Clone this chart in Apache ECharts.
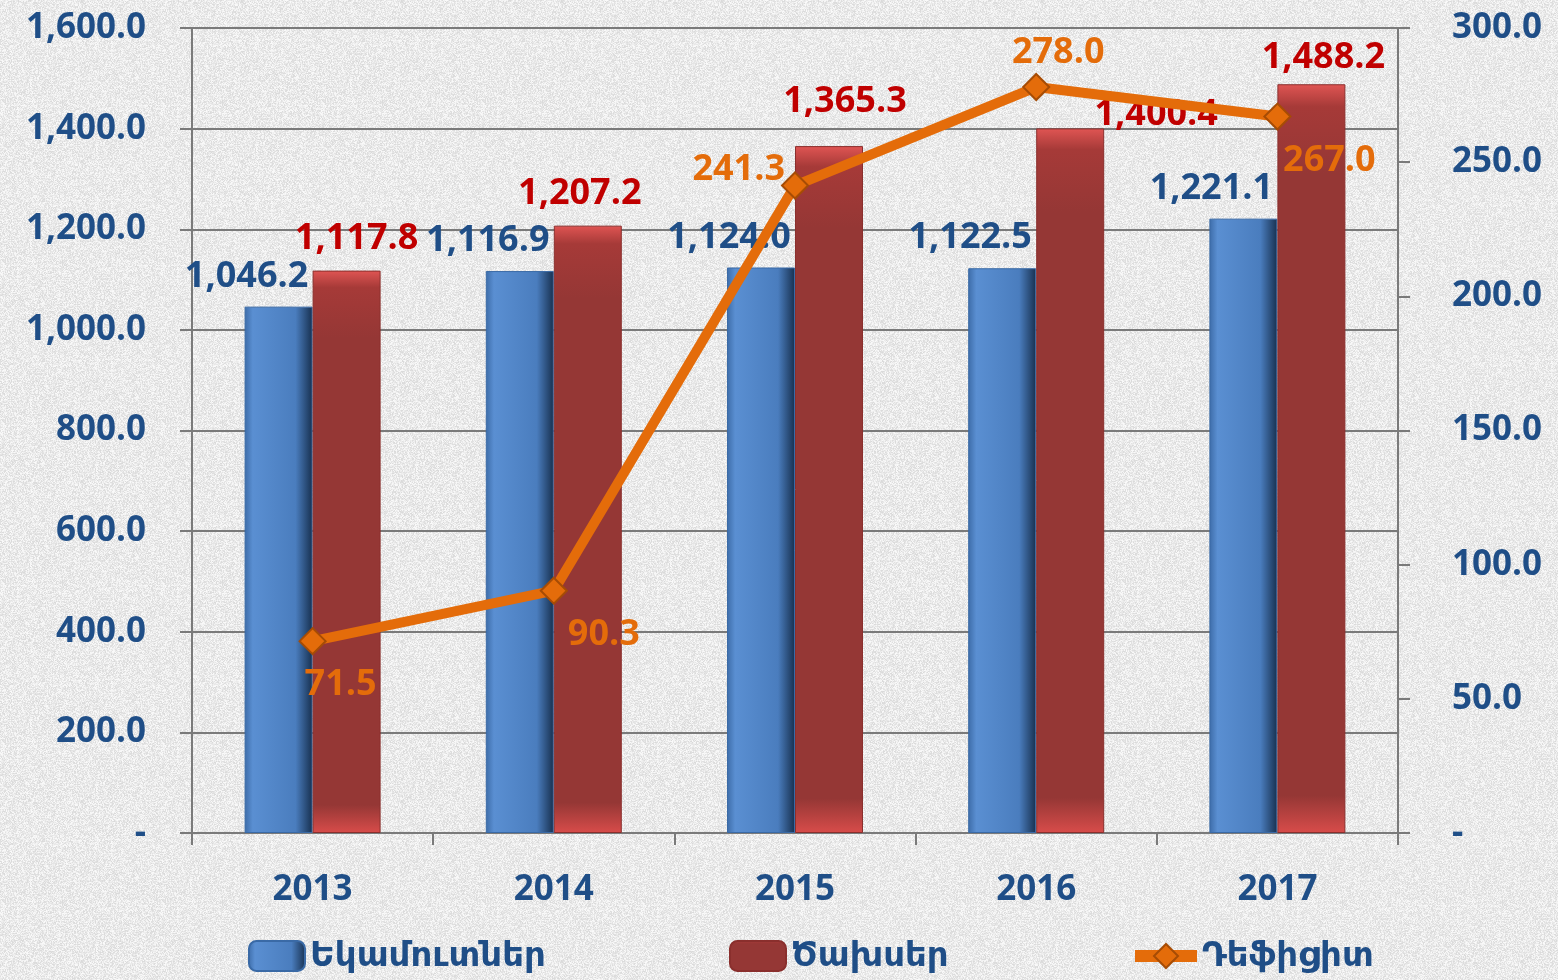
<!DOCTYPE html>
<html>
<head>
<meta charset="utf-8">
<script src="https://cdn.jsdelivr.net/npm/echarts@6/dist/echarts.min.js"></script>
<style>
  html, body { margin: 0; padding: 0; background: #e7e7e7; }
  #chart { width: 1558px; height: 980px; }
</style>
</head>
<body>
<div id="chart"></div>
<script>
// data
var years = ['2013', '2014', '2015', '2016', '2017'];
var revenues = [1046.2, 1116.9, 1124.0, 1122.5, 1221.1];
var expenses = [1117.8, 1207.2, 1365.3, 1400.4, 1488.2];
var deficit = [71.5, 90.3, 241.3, 278.0, 267.0];
var seriesNames = ['Եկամուտներ', 'Ծախսեր', 'Դեֆիցիտ'];

// label nudges, so the labels sit where the original put them
var expensesLabelShift = [[10, 0], [-8, 0], [16, -12], [86, 18], [12, 6]];
var deficitLabelPos = ['bottom', 'bottom', 'left', 'top', 'bottom'];
var deficitLabelShift = [[28, 0], [50, 0], [16, -16], [22, 10], [52, 0]];

var BLUE_TEXT = '#1f4e87';
var FONT = '"Open Sans", "DejaVu Sans", sans-serif';

// grainy paper background, like the original
(function () {
    var c = document.createElement('canvas');
    c.width = 160; c.height = 160;
    var ctx = c.getContext('2d');
    var img = ctx.createImageData(160, 160);
    var s = 12345;
    for (var i = 0; i < img.data.length; i += 4) {
        s = (s * 1103515245 + 12345) % 2147483648;
        var g = 218 + (s % 34);
        img.data[i] = g; img.data[i + 1] = g; img.data[i + 2] = g; img.data[i + 3] = 255;
    }
    ctx.putImageData(img, 0, 0);
    document.body.style.backgroundImage = 'url(' + c.toDataURL() + ')';
})();

function fmt(v) {
    if (v === 0) return '-';
    return Number(v).toLocaleString('en-US', { minimumFractionDigits: 1, maximumFractionDigits: 1 });
}

var chart = echarts.init(document.getElementById('chart'));

var axisLabelStyle = {
    color: BLUE_TEXT,
    fontSize: 35,
    fontWeight: 'bold',
    fontFamily: FONT,
    formatter: fmt
};

var legendText = {
    color: BLUE_TEXT,
    fontSize: 34,
    fontWeight: 'bold',
    fontFamily: FONT
};

var expensesData = expenses.map(function (v, i) {
    return { value: v, label: { offset: expensesLabelShift[i] } };
});

var deficitData = deficit.map(function (v, i) {
    return {
        value: v,
        label: { position: deficitLabelPos[i], offset: deficitLabelShift[i] }
    };
});

var option = {
    backgroundColor: 'transparent',
    animation: false,
    grid: { left: 192, right: 160, top: 28, bottom: 147 },
    legend: [
        { data: [seriesNames[0]], left: 243, top: 934, itemWidth: 56, itemHeight: 30, itemGap: 2, textStyle: legendText },
        { data: [seriesNames[1]], left: 724, top: 934, itemWidth: 56, itemHeight: 30, itemGap: 2, textStyle: legendText },
        {
            data: [seriesNames[2]], left: 1124, top: 934, itemWidth: 62, itemHeight: 30, itemGap: 4,
            lineStyle: { width: 12 }, textStyle: legendText
        }
    ],
    xAxis: {
        type: 'category',
        data: years,
        axisLine: { lineStyle: { color: '#7a7a7a', width: 2 } },
        axisTick: { show: true, length: 12, lineStyle: { color: '#7a7a7a', width: 2 } },
        axisLabel: { color: BLUE_TEXT, fontSize: 35, fontWeight: 'bold', fontFamily: FONT, margin: 40 }
    },
    yAxis: [
        {
            type: 'value', min: 0, max: 1600, interval: 200,
            axisLine: { show: true, lineStyle: { color: '#7a7a7a', width: 2 } },
            axisTick: { show: true, length: 12, lineStyle: { color: '#7a7a7a', width: 2 } },
            splitLine: { lineStyle: { color: '#7a7a7a', width: 2 } },
            axisLabel: Object.assign({ margin: 46 }, axisLabelStyle)
        },
        {
            type: 'value', min: 0, max: 300, interval: 50,
            axisLine: { show: true, lineStyle: { color: '#7a7a7a', width: 2 } },
            axisTick: { show: true, length: 12, lineStyle: { color: '#7a7a7a', width: 2 } },
            splitLine: { show: false },
            axisLabel: Object.assign({ margin: 54 }, axisLabelStyle)
        }
    ],
    series: [
        {
            name: seriesNames[0],
            type: 'bar',
            data: revenues,
            barWidth: 68,
            barGap: '0%',
            itemStyle: {
                color: new echarts.graphic.LinearGradient(0, 0, 1, 0, [
                    { offset: 0, color: '#3d6ca8' },
                    { offset: 0.12, color: '#5a8fd2' },
                    { offset: 0.75, color: '#4a7dbe' },
                    { offset: 1, color: '#17304f' }
                ]),
                borderColor: '#3a6aa6',
                borderWidth: 1
            },
            label: {
                show: true, position: 'top', distance: 12, offset: [-32, 0],
                color: BLUE_TEXT, fontSize: 36, fontWeight: 'bold', fontFamily: FONT,
                formatter: function (p) { return fmt(p.value); }
            }
        },
        {
            name: seriesNames[1],
            type: 'bar',
            data: expensesData,
            barWidth: 68,
            itemStyle: {
                color: new echarts.graphic.LinearGradient(0, 0, 0, 1, [
                    { offset: 0, color: '#e05553' },
                    { offset: 0.03, color: '#a63a38' },
                    { offset: 0.12, color: '#953735' },
                    { offset: 0.95, color: '#953735' },
                    { offset: 1, color: '#d84c4a' }
                ]),
                borderColor: '#8a2f2d',
                borderWidth: 1
            },
            label: {
                show: true, position: 'top', distance: 14,
                color: '#c00000', fontSize: 36, fontWeight: 'bold', fontFamily: FONT,
                formatter: function (p) { return fmt(p.value); }
            }
        },
        {
            name: seriesNames[2],
            type: 'line',
            yAxisIndex: 1,
            data: deficitData,
            z: 5,
            lineStyle: { color: '#e46c0a', width: 10 },
            symbol: 'diamond',
            symbolSize: 26,
            itemStyle: { color: '#e46c0a', borderColor: '#a64c05', borderWidth: 2 },
            label: {
                show: true, distance: 12,
                color: '#e46c0a', fontSize: 36, fontWeight: 'bold', fontFamily: FONT,
                formatter: function (p) { return fmt(p.value); }
            }
        }
    ]
};

chart.setOption(option);
</script>
</body>
</html>
